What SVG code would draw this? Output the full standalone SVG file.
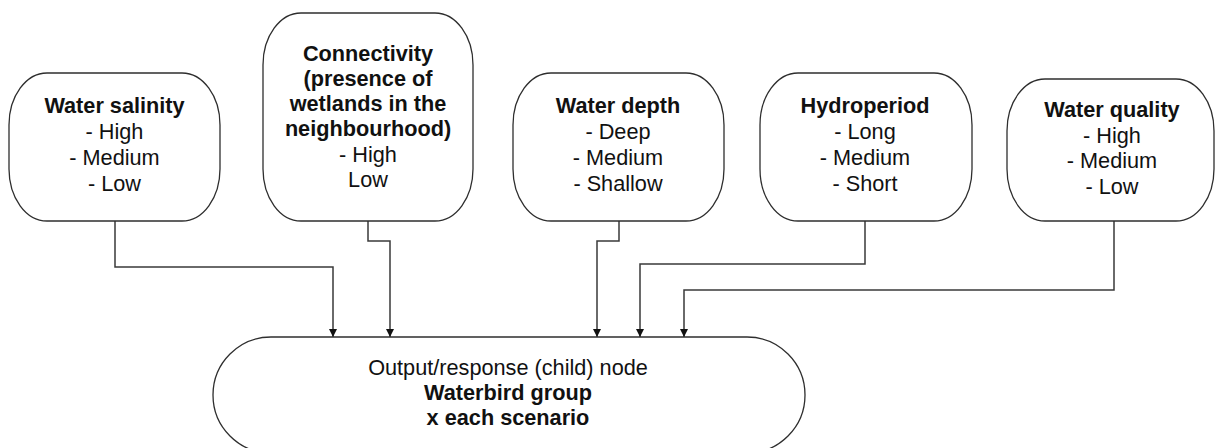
<svg xmlns="http://www.w3.org/2000/svg" width="1215" height="448" viewBox="0 0 1215 448">
  <style>
    .node { fill: #ffffff; stroke: #2e2e2e; stroke-width: 1.3; }
    .wire { fill: none; stroke: #3a3a3a; stroke-width: 1.5; }
    text { font-family: "Liberation Sans", Arial, sans-serif; font-size: 21.7px; fill: #111111; text-anchor: middle; }
    .title { font-weight: bold; }
  </style>
  <defs>
    <marker id="arrow" markerUnits="userSpaceOnUse" markerWidth="9" markerHeight="9" refX="8" refY="4" orient="auto">
      <path d="M0,0 L8,4 L0,8 Z" fill="#111111"/>
    </marker>
  </defs>
  <rect width="1215" height="448" fill="#ffffff"/>

  <!-- connectors: each input factor feeds the response node -->
  <g id="connectors">
    <path class="wire" d="M115,221 V267 H333 V337" marker-end="url(#arrow)"/>
    <path class="wire" d="M368,221 V241 H390 V337" marker-end="url(#arrow)"/>
    <path class="wire" d="M619,221 V241 H597 V337" marker-end="url(#arrow)"/>
    <path class="wire" d="M865,221 V264 H640 V337" marker-end="url(#arrow)"/>
    <path class="wire" d="M1114,221 V290 H684 V337" marker-end="url(#arrow)"/>
  </g>

  <g id="water-salinity">
    <rect class="node" x="9" y="73" width="211" height="148" rx="38" ry="52"/>
    <text class="title" x="114.5" y="113">Water salinity</text>
    <text x="114.5" y="139">- High</text>
    <text x="114.5" y="165">- Medium</text>
    <text x="114.5" y="191">- Low</text>
  </g>

  <g id="connectivity">
    <rect class="node" x="263" y="13" width="210" height="208" rx="38" ry="52"/>
    <text class="title" x="368" y="61">Connectivity</text>
    <text class="title" x="368" y="86">(presence of</text>
    <text class="title" x="368" y="111">wetlands in the</text>
    <text class="title" x="368" y="136">neighbourhood)</text>
    <text x="368" y="162">- High</text>
    <text x="368" y="187">Low</text>
  </g>

  <g id="water-depth">
    <rect class="node" x="513" y="73" width="211" height="148" rx="38" ry="52"/>
    <text class="title" x="618" y="113">Water depth</text>
    <text x="618" y="139">- Deep</text>
    <text x="618" y="165">- Medium</text>
    <text x="618" y="191">- Shallow</text>
  </g>

  <g id="hydroperiod">
    <rect class="node" x="760" y="73" width="212" height="148" rx="38" ry="52"/>
    <text class="title" x="865" y="113">Hydroperiod</text>
    <text x="865" y="139">- Long</text>
    <text x="865" y="165">- Medium</text>
    <text x="865" y="191">- Short</text>
  </g>

  <g id="water-quality">
    <rect class="node" x="1007" y="79" width="207" height="142" rx="38" ry="52"/>
    <text class="title" x="1112" y="117">Water quality</text>
    <text x="1112" y="143">- High</text>
    <text x="1112" y="168">- Medium</text>
    <text x="1112" y="194">- Low</text>
  </g>

  <g id="response-node">
    <path class="node" d="M271,337 H747 A58,58 0 0 1 747,453 H271 A58,58 0 0 1 271,337 Z"/>
    <text x="508" y="375">Output/response (child) node</text>
    <text class="title" x="508" y="400">Waterbird group</text>
    <text class="title" x="508" y="425">x each scenario</text>
  </g>
</svg>
